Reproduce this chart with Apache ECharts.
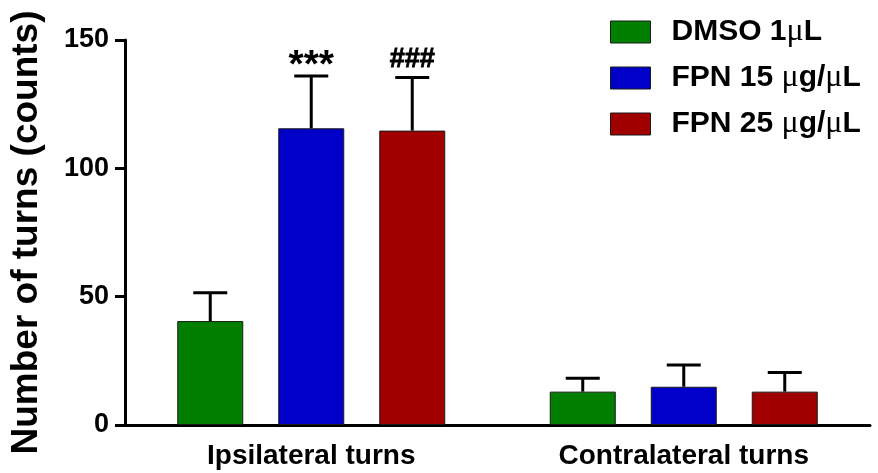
<!DOCTYPE html>
<html>
<head>
<meta charset="utf-8">
<script src="https://cdn.jsdelivr.net/npm/echarts@6/dist/echarts.min.js"></script>
<style>html,body{margin:0;padding:0;background:#fff;}#c{width:878px;height:473px;}</style>
</head>
<body>
<div id="c"></div>
<script>
const categories = ['Ipsilateral turns', 'Contralateral turns'];
const seriesNames = ['DMSO 1μL', 'FPN 15 μg/μL', 'FPN 25 μg/μL'];
const seriesColors = ['#007F00', '#0000C8', '#A00000'];
const dmsoMean = [40.5, 13.0];
const dmsoErr = [11.0, 5.2];
const fpn15Mean = [115.6, 14.9];
const fpn15Err = [20.4, 8.5];
const fpn25Mean = [114.7, 13.0];
const fpn25Err = [20.7, 7.5];
const dmsoMarks = ['', ''];
const fpn15Marks = ['***', ''];
const fpn25Marks = ['###', ''];
const yMin = 0, yMax = 150, yInterval = 50;

const means = [dmsoMean, fpn15Mean, fpn25Mean];
const errs = [dmsoErr, fpn15Err, fpn25Err];
const marks = [dmsoMarks, fpn15Marks, fpn25Marks];

const BAR_W = 66, BAR_GAP = 35, CAP_W = 34;
const FONT = '"Liberation Sans", Arial, sans-serif';

const chart = echarts.init(document.getElementById('c'));
const series = [];
seriesNames.forEach((name, i) => {
  series.push({
    name: name,
    type: 'bar',
    data: means[i],
    barWidth: BAR_W,
    barGap: (BAR_GAP / BAR_W * 100) + '%',
    itemStyle: { color: seriesColors[i], borderColor: '#1a1a1a', borderWidth: 1 },
    z: 2
  });
});
seriesNames.forEach((name, i) => {
  const offset = (i - 1) * (BAR_W + BAR_GAP);
  series.push({
    type: 'custom',
    name: name,
    silent: true,
    z: 3,
    data: means[i].map((m, k) => [k, m, m + errs[i][k]]),
    renderItem: function (params, api) {
      const b = api.coord([api.value(0), api.value(1)]);
      const t = api.coord([api.value(0), api.value(2)]);
      const x = b[0] + offset;
      const mk = marks[i][params.dataIndex];
      const children = [
        { type: 'line', shape: { x1: x, y1: b[1], x2: x, y2: t[1] }, style: { stroke: '#000', lineWidth: 3 } },
        { type: 'line', shape: { x1: x - CAP_W / 2, y1: t[1], x2: x + CAP_W / 2, y2: t[1] }, style: { stroke: '#000', lineWidth: 3 } }
      ];
      if (mk) {
        const isStar = mk.indexOf('*') >= 0;
        children.push({
          type: 'text',
          style: {
            text: mk, x: x, y: t[1] + (isStar ? 10 : -4),
            align: 'center', verticalAlign: 'bottom',
            fontFamily: FONT, fontWeight: 'bold', fontSize: isStar ? 39 : 27, fill: '#000',
            stroke: isStar ? null : '#000', lineWidth: isStar ? 0 : 0.8
          }
        });
      }
      return { type: 'group', children: children };
    }
  });
});

chart.setOption({
  animation: false,
  backgroundColor: '#fff',
  grid: { left: 124, right: 8, top: 40, bottom: 48 },
  legend: {
    orient: 'vertical',
    left: 605, top: 11,
    itemWidth: 40, itemHeight: 22, itemGap: 14,
    icon: 'rect',
    data: seriesNames,
    itemStyle: { borderColor: '#1a1a1a', borderWidth: 1 },
    formatter: function (n) {
      return n.split('μ').map(s => s ? '{a|' + s + '}' : '').join('{m|μ}');
    },
    textStyle: {
      padding: [0, 0, 0, 16],
      rich: {
        a: { fontFamily: FONT, fontWeight: 'bold', fontSize: 30, color: '#000' },
        m: { fontFamily: '"Liberation Serif", "DejaVu Serif", serif', fontSize: 32, color: '#000' }
      }
    }
  },
  xAxis: {
    type: 'category',
    data: categories,
    axisLine: { lineStyle: { color: '#000', width: 3 } },
    axisTick: { alignWithLabel: true, length: 10, lineStyle: { color: '#000', width: 3 } },
    axisLabel: { color: '#000', fontFamily: FONT, fontWeight: 'bold', fontSize: 28, margin: 17 }
  },
  yAxis: {
    type: 'value',
    min: yMin, max: yMax, interval: yInterval,
    name: 'Number of turns (counts)',
    nameLocation: 'middle',
    nameRotate: 90,
    nameGap: 80,
    nameTextStyle: { color: '#000', fontFamily: FONT, fontWeight: 'bold', fontSize: 37 },
    splitLine: { show: false },
    axisLine: { show: true, lineStyle: { color: '#000', width: 3 } },
    axisTick: { show: true, length: 10, lineStyle: { color: '#000', width: 3 } },
    axisLabel: { color: '#000', fontFamily: FONT, fontWeight: 'bold', fontSize: 27, margin: 16 }
  },
  series: series
});
</script>
</body>
</html>
